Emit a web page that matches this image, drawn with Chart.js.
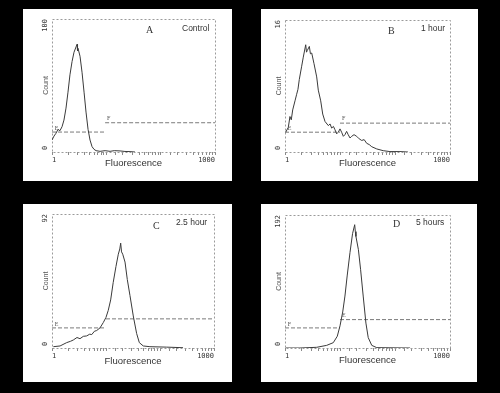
<!DOCTYPE html>
<html>
<head>
<meta charset="utf-8">
<script src="https://cdn.jsdelivr.net/npm/chart.js@4.4.1/dist/chart.umd.min.js"></script>
<style>
  html, body { margin: 0; padding: 0; background: #000; }
  body { width: 500px; height: 393px; position: relative; overflow: hidden; }
  .panel { position: absolute; background: #fff; }
  .panel canvas { position: absolute; left: 0; top: 0; }
  .lbl { position: absolute; white-space: nowrap; color: #333; line-height: 1; }
  .letter { font: 10px 'Liberation Serif', serif; }
  .time { font: 8.5px 'Liberation Sans', Arial, sans-serif; }
</style>
</head>
<body>
<script>
'use strict';

/* --------------------------------------------------------------------------
   DATA — fluorescence (log channel) vs. cell count
   -------------------------------------------------------------------------- */
const panelLetters = ['A', 'B', 'C', 'D'];
const panelTimes = ['Control', '1 hour', '2.5 hour', '5 hours'];
const xTickLabels = ['1', '1000'];
const yMax = [100, 16, 92, 192];
const yTickLabels = [['0', '100'], ['0', '16'], ['0', '92'], ['0', '192']];

const fluorA = [1.0, 1.09, 1.18, 1.29, 1.4, 1.53, 1.66, 1.81, 1.97, 2.14, 2.34, 2.54, 2.77, 2.89, 2.95, 3.01, 3.28, 3.57, 3.89, 4.23, 4.61, 5.01, 5.46, 5.94, 6.47, 7.66, 9.5, 11.7, 14, 17.9, 22, 27.3, 33.7];
const countA = [9, 12, 14, 17, 16, 19, 24, 33, 45, 58, 68, 75, 79, 81, 76, 78, 72, 60, 45, 30, 17, 9, 4, 2, 1, 0.5, 1, 0.5, 1, 0.8, 0.4, 0.3, 0];

const fluorB = [1.03, 1.15, 1.23, 1.3, 1.38, 1.52, 1.63, 1.72, 1.82, 2.01, 2.15, 2.38, 2.46, 2.54, 2.77, 2.9, 3.06, 3.37, 3.77, 4.03, 4.46, 4.85, 5.34, 6.13, 6.6, 7.05, 7.6, 8.1, 8.7, 9.31, 10.0, 10.7, 11.5, 12.3, 13.2, 14.1, 15.2, 16.3, 18.0, 20.1, 22.3, 24.8, 27.5, 30.6, 34.0, 37.8, 46.6, 61.1, 81, 123, 172];
const countB = [2.4, 3.0, 4.3, 3.9, 5.1, 6.2, 7.0, 7.6, 8.8, 10.4, 11.5, 13.0, 12.1, 12.3, 12.8, 11.9, 12.0, 10.7, 9.1, 7.5, 6.2, 4.6, 3.7, 3.2, 3.4, 2.9, 3.1, 2.7, 2.2, 2.4, 2.8, 2.4, 1.9, 2.1, 2.5, 2.1, 1.7, 1.9, 2.1, 1.9, 1.6, 1.4, 1.5, 1.05, 0.9, 0.64, 0.37, 0.16, 0.05, 0.05, 0];

const fluorC = [1.06, 1.41, 1.87, 2.2, 2.48, 2.9, 3.3, 3.8, 4.39, 5.0, 5.44, 6.1, 6.72, 7.74, 8.92, 9.99, 11.0, 12.2, 13.6, 15.3, 16.9, 18.0, 18.7, 19.4, 20.4, 22.5, 24.8, 27.8, 32.0, 36.9, 41.4, 49.0, 65.1, 133, 267];
const countC = [0.9, 1.4, 3.7, 4.6, 5.5, 7.2, 6.4, 8.0, 8.3, 9.5, 9.2, 11.5, 12, 13.8, 17.5, 21, 25.8, 33, 45, 56, 64.4, 68, 72, 66, 64.4, 59, 47, 36, 22, 10, 3.7, 1.4, 0.9, 0.6, 0.2];

const fluorD = [1.03, 1.87, 3.77, 5.72, 7.55, 8.93, 10.0, 11.2, 12.3, 13.5, 15.2, 16.9, 18.5, 19.0, 19.5, 21.6, 23.7, 26.4, 29.6, 32.6, 37.8, 46.6, 81, 188];
const countD = [0, 0, 1, 3.8, 7.7, 17, 32, 52, 75, 104, 138, 165, 178, 168, 161, 142, 113, 75, 36, 15, 3.8, 0.5, 0.3, 0];

const gateEdge = [9.5, 10, 10, 10];
const gateLow = [15, 2.4, 13.8, 29];
const gateHigh = [22, 3.5, 20, 41];
const gateLowLabel = ['E', 'E', 'E', 'F'];
const gateHighLabel = ['F', 'F', '', 'E'];

const fluorSets = [fluorA, fluorB, fluorC, fluorD];
const countSets = [countA, countB, countC, countD];

/* --------------------------------------------------------------------------
   LAYOUT — panel boxes and plot areas (px, relative to panel)
   -------------------------------------------------------------------------- */
const panels = [
    { left: 23, top: 9, w: 209, h: 172, plot: [29, 10, 192, 143], titleOff: 18, letter: [123, 15], time: [159, 14] },
    { left: 261, top: 9, w: 217, h: 172, plot: [24, 11, 189, 143], titleOff: 18, letter: [127, 16], time: [160, 14] },
    { left: 23, top: 204, w: 209, h: 178, plot: [29, 10, 191, 144], titleOff: 21, letter: [130, 16], time: [153, 13] },
    { left: 261, top: 204, w: 216, h: 178, plot: [24, 11, 189, 144], titleOff: 22, letter: [132, 14], time: [155, 13] },
];

/* --------------------------------------------------------------------------
   PLUGINS — dashed plot frame, rotated y labels, gate marker letters
   -------------------------------------------------------------------------- */
const histDecor = {
    id: 'histDecor',
    beforeDatasetsDraw(chart) {
        const { ctx, chartArea: a } = chart;
        ctx.save();
        ctx.strokeStyle = '#9a9a9a';
        ctx.lineWidth = 1;
        ctx.setLineDash([2, 2]);
        ctx.strokeRect(a.left + 0.5, a.top + 0.5, a.right - a.left, a.bottom - a.top);
        ctx.restore();
    },
    afterDraw(chart) {
        const { ctx, chartArea: a } = chart;
        const o = chart.options.plugins.histDecor;
        const ys = chart.scales.y, xs = chart.scales.x;
        ctx.save();
        ctx.fillStyle = '#333';
        ctx.font = '7px "DejaVu Sans Mono", monospace';
        // y tick labels, written sideways like the instrument print-out
        ctx.save();
        ctx.translate(a.left - 5, ys.getPixelForValue(o.max));
        ctx.rotate(-Math.PI / 2);
        ctx.textAlign = 'right';
        ctx.fillText(o.yLabels[1], 0, 0);
        ctx.restore();
        ctx.save();
        ctx.translate(a.left - 5, ys.getPixelForValue(0) - 2);
        ctx.rotate(-Math.PI / 2);
        ctx.textAlign = 'left';
        ctx.fillText(o.yLabels[0], 0, 0);
        ctx.restore();
        // gate marker letters
        ctx.font = '6px "Liberation Serif", serif';
        ctx.fillStyle = '#555';
        ctx.textAlign = 'left';
        if (o.lowLabel) ctx.fillText(o.lowLabel, xs.getPixelForValue(1.12), ys.getPixelForValue(o.low) - 2);
        if (o.highLabel) ctx.fillText(o.highLabel, xs.getPixelForValue(o.edge) + 2, ys.getPixelForValue(o.high) - 3);
        ctx.restore();
    },
};

Chart.defaults.font.family = '"Liberation Sans", Arial, sans-serif';

/* --------------------------------------------------------------------------
   BUILD ONE HISTOGRAM PANEL
   -------------------------------------------------------------------------- */
function renderHistogram(i) {
    const p = panels[i];
    const [pl, pt, pr, pb] = p.plot;

    const div = document.createElement('div');
    div.className = 'panel';
    Object.assign(div.style, { left: p.left + 'px', top: p.top + 'px', width: p.w + 'px', height: p.h + 'px' });
    const canvas = document.createElement('canvas');
    canvas.width = p.w;
    canvas.height = p.h;
    div.appendChild(canvas);

    const letter = document.createElement('div');
    letter.className = 'lbl letter';
    letter.textContent = panelLetters[i];
    Object.assign(letter.style, { left: p.letter[0] + 'px', top: p.letter[1] + 'px' });
    div.appendChild(letter);

    const time = document.createElement('div');
    time.className = 'lbl time';
    time.textContent = panelTimes[i];
    Object.assign(time.style, { left: p.time[0] + 'px', top: p.time[1] + 'px' });
    div.appendChild(time);

    document.body.appendChild(div);

    const xs = fluorSets[i], ys = countSets[i];
    const gateStyle = { borderColor: '#7a7a7a', borderWidth: 1, borderDash: [4, 2], pointRadius: 0 };

    new Chart(canvas.getContext('2d'), {
        type: 'line',
        data: {
            datasets: [
                { label: 'Count', data: xs.map((x, k) => ({ x, y: ys[k] })), borderColor: '#3a3a3a', borderWidth: 1, pointRadius: 0, tension: 0 },
                { label: 'Gate low', data: [{ x: 1, y: gateLow[i] }, { x: gateEdge[i], y: gateLow[i] }], ...gateStyle },
                { label: 'Gate high', data: [{ x: gateEdge[i], y: gateHigh[i] }, { x: 1000, y: gateHigh[i] }], ...gateStyle },
            ],
        },
        options: {
            responsive: false,
            animation: false,
            devicePixelRatio: 1,
            layout: { padding: { top: pt, right: p.w - pr, left: 0, bottom: 0 } },
            plugins: {
                legend: { display: false },
                tooltip: { enabled: false },
                histDecor: {
                    max: yMax[i], yLabels: yTickLabels[i],
                    low: gateLow[i], high: gateHigh[i], edge: gateEdge[i],
                    lowLabel: gateLowLabel[i], highLabel: gateHighLabel[i],
                },
            },
            scales: {
                x: {
                    type: 'logarithmic',
                    min: 1,
                    max: 1000,
                    afterFit: s => { s.height = p.h - pb; },
                    border: { display: false },
                    grid: { drawOnChartArea: false, drawTicks: true, tickLength: 3, color: '#8a8a8a' },
                    ticks: {
                        autoSkip: false,
                        maxRotation: 0,
                        align: 'inner',
                        padding: 1,
                        color: '#333',
                        font: { family: '"DejaVu Sans Mono", monospace', size: 7 },
                        callback: v => (v === 1 ? xTickLabels[0] : v === 1000 ? xTickLabels[1] : ''),
                    },
                    title: {
                        display: true,
                        text: 'Fluorescence',
                        color: '#333',
                        font: { size: 9.5 },
                        padding: { top: 0, bottom: p.titleOff - 6 },
                    },
                },
                y: {
                    min: 0,
                    max: yMax[i],
                    afterFit: s => { s.width = pl; },
                    border: { display: false },
                    grid: { display: false },
                    ticks: { display: false },
                    title: {
                        display: true,
                        text: 'Count',
                        color: '#555',
                        font: { size: 7 },
                        padding: { top: pl - 10, bottom: 0 },
                    },
                },
            },
        },
        plugins: [histDecor],
    });
}

for (let i = 0; i < 4; i++) renderHistogram(i);
</script>
</body>
</html>
